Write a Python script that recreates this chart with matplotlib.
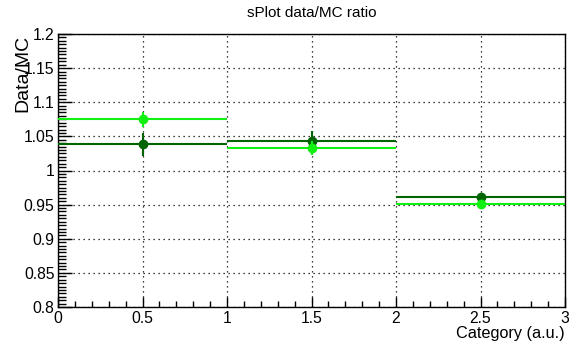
import matplotlib
matplotlib.use("Agg")
import matplotlib.pyplot as plt
from matplotlib.ticker import MultipleLocator, FixedLocator

plt.rcParams['font.family'] = ['Liberation Sans', 'DejaVu Sans']

# Category bins
bin_centers = [0.5, 1.5, 2.5]
bin_half_width = [0.5, 0.5, 0.5]

# Ratio series (dark and light green)
ratio_dark = [1.0385, 1.0437, 0.9616]
err_dark = [0.017, 0.014, 0.005]
ratio_light = [1.075, 1.0325, 0.9505]
err_light = [0.011, 0.010, 0.004]

x_ticks = [0, 0.5, 1, 1.5, 2, 2.5, 3]
x_ticklabels = ["0", "0.5", "1", "1.5", "2", "2.5", "3"]
y_ticks = [0.8, 0.85, 0.9, 0.95, 1.0, 1.05, 1.1, 1.15, 1.2]
y_ticklabels = ["0.8", "0.85", "0.9", "0.95", "1", "1.05", "1.1", "1.15", "1.2"]

W, H = 569, 347
fig = plt.figure(figsize=(W / 100, H / 100), dpi=100)
ax = fig.add_axes([58 / W, 1 - 307 / H, (565 - 58) / W, (307 - 34) / H])

ax.set_xlim(0, 3)
ax.set_ylim(0.8, 1.2)

ax.errorbar(bin_centers, ratio_dark, xerr=bin_half_width, yerr=err_dark,
            fmt='o', color='#006400', ms=6, elinewidth=1.5, capsize=0, zorder=3)
ax.errorbar(bin_centers, ratio_light, xerr=bin_half_width, yerr=err_light,
            fmt='o', color='#11f011', ms=6, elinewidth=1.5, capsize=0, zorder=4)

ax.xaxis.set_major_locator(FixedLocator(x_ticks))
ax.set_xticklabels(x_ticklabels)
ax.xaxis.set_minor_locator(MultipleLocator(0.1))
ax.yaxis.set_major_locator(FixedLocator(y_ticks))
ax.set_yticklabels(y_ticklabels)
ax.yaxis.set_minor_locator(MultipleLocator(0.005))

ax.tick_params(which='both', direction='in', top=False, right=False,
               labelsize=11.3, colors='black', width=1.0)
ax.tick_params(axis='y', which='major', length=10, pad=2.6)
ax.tick_params(axis='y', which='minor', length=5.5)
ax.tick_params(axis='x', which='major', length=7, pad=3.2)
ax.tick_params(axis='x', which='minor', length=4)

ax.grid(True, which='major', linestyle=(0, (1, 3)), color='black', linewidth=0.9)
for s in ax.spines.values():
    s.set_linewidth(1.0)

# Titles placed in figure coordinates
fig.text(311.5 / W, 1 - 13 / H, "sPlot data/MC ratio", ha='center', va='center',
         fontsize=11)
fig.text(23 / W, 1 - 35 / H, "Data/MC", rotation=90, ha='center', va='top',
         fontsize=14)
fig.text(565 / W, 1 - 338 / H, "Category (a.u.)", ha='right', va='baseline',
         fontsize=11.7)

fig.savefig("out.png", dpi=100)
